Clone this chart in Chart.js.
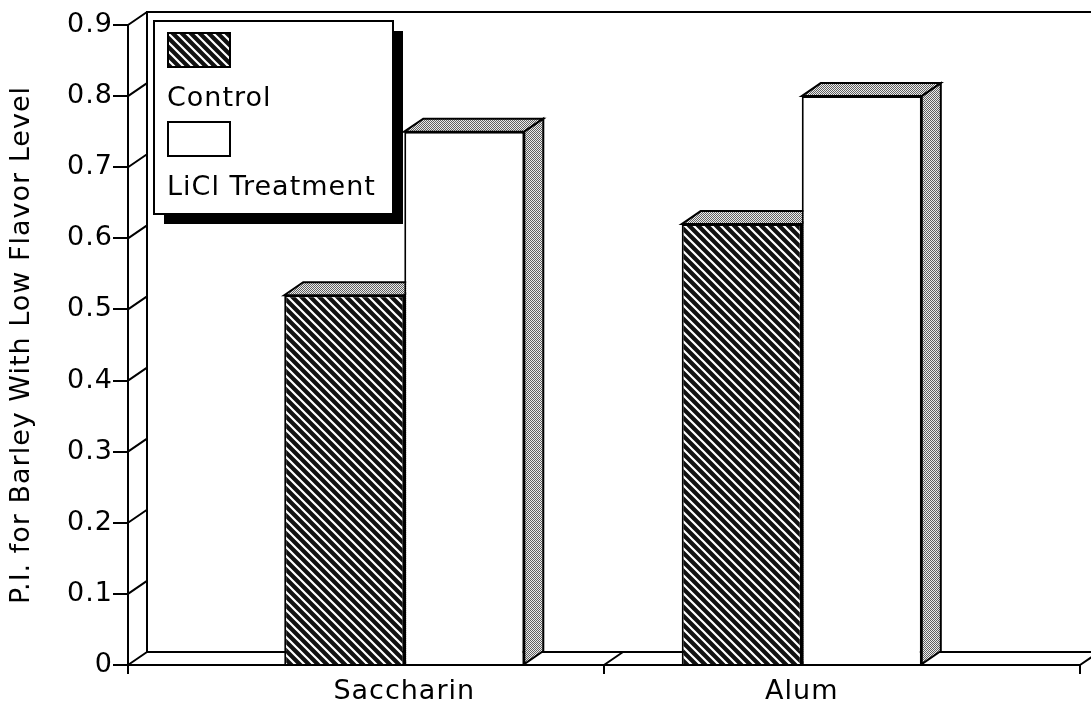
<!DOCTYPE html>
<html>
<head>
<meta charset="utf-8">
<script src="https://cdn.jsdelivr.net/npm/chart.js@4.4.1/dist/chart.umd.min.js"></script>
<style>
  html, body { margin: 0; padding: 0; background: #fff; }
  #wrap { width: 1091px; height: 711px; position: relative; }
</style>
</head>
<body>
<div id="wrap"><canvas id="c" width="1091" height="711"></canvas></div>
<script>
// ---- data ----
const categories = ['Saccharin', 'Alum'];
const controlValues = [0.52, 0.62];
const liclValues = [0.75, 0.80];
const seriesLabels = ['Control', 'LiCl Treatment'];
const yAxisTitle = 'P.I. for Barley With Low Flavor Level';
const yMin = 0, yMax = 0.9, yStep = 0.1;

// ---- styling helpers ----
const DX = 19, DY = -13;
const LW = 2;
const canvas = document.getElementById('c');
const mainCtx = canvas.getContext('2d');

function makeHatch() {
  const s = 9;
  const c = document.createElement('canvas');
  c.width = s; c.height = s;
  const g = c.getContext('2d');
  g.fillStyle = '#111';
  g.fillRect(0, 0, s, s);
  g.strokeStyle = '#fff';
  g.lineWidth = 2.2;
  g.beginPath();
  for (let k = -s; k <= s; k += s) {
    g.moveTo(k - 2, -2);
    g.lineTo(k + s + 2, s + 2);
  }
  g.stroke();
  return mainCtx.createPattern(c, 'repeat');
}
function makeStipple() {
  const c = document.createElement('canvas');
  c.width = 2; c.height = 2;
  const g = c.getContext('2d');
  g.fillStyle = '#ececec';
  g.fillRect(0, 0, 2, 2);
  g.fillStyle = '#606060';
  g.fillRect(0, 0, 1, 1);
  g.fillRect(1, 1, 1, 1);
  return mainCtx.createPattern(c, 'repeat');
}
const hatch = makeHatch();
const stipple = makeStipple();

function spacing(chart) { chart.ctx.letterSpacing = '1px'; }

const threeD = {
  id: 'threeD',
  beforeUpdate: spacing,
  beforeLayout: spacing,
  beforeDraw: spacing,
  beforeDatasetsDraw(chart) {
    const ctx = chart.ctx;
    const a = chart.chartArea;
    const xs = chart.scales.x, ys = chart.scales.y;
    const L = a.left, R = a.right, T = a.top, B = a.bottom;
    ctx.save();
    ctx.strokeStyle = '#000';
    ctx.lineWidth = LW;
    ctx.beginPath();
    // back wall and top edge
    ctx.moveTo(L + DX, B + DY);
    ctx.lineTo(L + DX, T + DY);
    ctx.lineTo(chart.width + 10, T + DY);
    // tick connectors on side wall
    ys.ticks.forEach(t => {
      const py = ys.getPixelForValue(t.value);
      ctx.moveTo(L, py);
      ctx.lineTo(L + DX, py + DY);
    });
    // floor back edge
    ctx.moveTo(L + DX, B + DY);
    ctx.lineTo(chart.width + 10, B + DY);
    // floor category boundaries
    [xs.min, (xs.min + xs.max) / 2, xs.max].forEach(v => {
      const px = xs.getPixelForValue(v);
      ctx.moveTo(px, B);
      ctx.lineTo(px + DX, B + DY);
      ctx.moveTo(px, B);
      ctx.lineTo(px, B + 9);
    });
    ctx.stroke();

    // 3D top and side faces of bars
    chart.data.datasets.forEach((ds, i) => {
      const meta = chart.getDatasetMeta(i);
      meta.data.forEach(bar => {
        const p = bar.getProps(['x', 'y', 'base', 'width'], true);
        const l = p.x - p.width / 2, r = p.x + p.width / 2, t = p.y, b = p.base;
        ctx.fillStyle = stipple;
        // top
        ctx.beginPath();
        ctx.moveTo(l, t);
        ctx.lineTo(l + DX, t + DY);
        ctx.lineTo(r + DX, t + DY);
        ctx.lineTo(r, t);
        ctx.closePath();
        ctx.fill();
        ctx.stroke();
        // side
        ctx.beginPath();
        ctx.moveTo(r, t);
        ctx.lineTo(r + DX, t + DY);
        ctx.lineTo(r + DX, b + DY);
        ctx.lineTo(r, b);
        ctx.closePath();
        ctx.fill();
        ctx.stroke();
      });
    });
    ctx.restore();
  },
  afterDatasetsDraw(chart) {
    const ctx = chart.ctx;
    const a = chart.chartArea;
    ctx.save();
    ctx.strokeStyle = '#000';
    ctx.lineWidth = LW;
    ctx.beginPath();
    ctx.moveTo(a.left, a.bottom);
    ctx.lineTo(a.right, a.bottom);
    ctx.stroke();
    ctx.restore();
  },
  afterDraw(chart) {
    // boxed legend with drop shadow, swatch above each label
    const ctx = chart.ctx;
    const bx = 154, by = 21, bw = 239, bh = 193, sh = 10;
    ctx.save();
    ctx.fillStyle = '#000';
    ctx.fillRect(bx + sh, by + sh, bw, bh);
    ctx.fillStyle = '#fff';
    ctx.fillRect(bx, by, bw, bh);
    ctx.strokeStyle = '#000';
    ctx.lineWidth = LW;
    ctx.strokeRect(bx, by, bw, bh);
    ctx.font = '27px "DejaVu Sans"';
    ctx.letterSpacing = '1px';
    ctx.textAlign = 'left';
    ctx.textBaseline = 'alphabetic';
    chart.data.datasets.forEach((ds, i) => {
      const sy = 33 + i * 89;
      ctx.fillStyle = ds.backgroundColor;
      ctx.fillRect(168, sy, 62, 34);
      ctx.strokeRect(168, sy, 62, 34);
      ctx.fillStyle = '#000';
      ctx.fillText(ds.label, 167, sy + 73);
    });
    ctx.restore();
  }
};

Chart.defaults.font.family = '"DejaVu Sans", sans-serif';
Chart.defaults.color = '#000';

new Chart(canvas, {
  type: 'bar',
  data: {
    datasets: [
      {
        label: seriesLabels[0],
        data: categories.map((c, i) => ({ x: i, y: controlValues[i] })),
        backgroundColor: hatch,
        borderColor: '#000',
        borderWidth: LW
      },
      {
        label: seriesLabels[1],
        data: categories.map((c, i) => ({ x: i, y: liclValues[i] })),
        backgroundColor: '#ffffff',
        borderColor: '#000',
        borderWidth: LW
      }
    ]
  },
  options: {
    responsive: false,
    animation: false,
    devicePixelRatio: 1,
    categoryPercentage: 0.604,
    barPercentage: 1.0,
    layout: { padding: { top: 25, right: 11, left: 0, bottom: 0 } },
    plugins: {
      legend: { display: false },
      tooltip: { enabled: false }
    },
    scales: {
      x: {
        type: 'linear',
        min: -0.695,
        max: 1.70,
        offset: false,
        afterBuildTicks: s => { s.ticks = categories.map((c, i) => ({ value: i })); },
        afterFit: s => { s.height = 46; },
        ticks: {
          autoSkip: false,
          maxRotation: 0,
          padding: 11,
          font: { size: 27 },
          color: '#000',
          callback: v => categories[v]
        },
        grid: { display: false, drawTicks: false },
        border: { display: true, color: '#000', width: LW }
      },
      y: {
        type: 'linear',
        min: yMin,
        max: yMax,
        afterFit: s => { s.width = 128; },
        ticks: {
          stepSize: yStep,
          padding: 0,
          font: { size: 27 },
          color: '#000',
          callback: v => (Math.abs(v) < 1e-9 ? '0' : Number(v).toFixed(1))
        },
        grid: { drawOnChartArea: false, drawTicks: true, tickLength: 15, color: '#000', lineWidth: LW },
        border: { display: true, color: '#000', width: LW },
        title: {
          display: true,
          text: yAxisTitle,
          font: { size: 27 },
          color: '#000',
          padding: { top: 6, bottom: 0 }
        }
      }
    }
  },
  plugins: [threeD]
});
</script>
</body>
</html>
